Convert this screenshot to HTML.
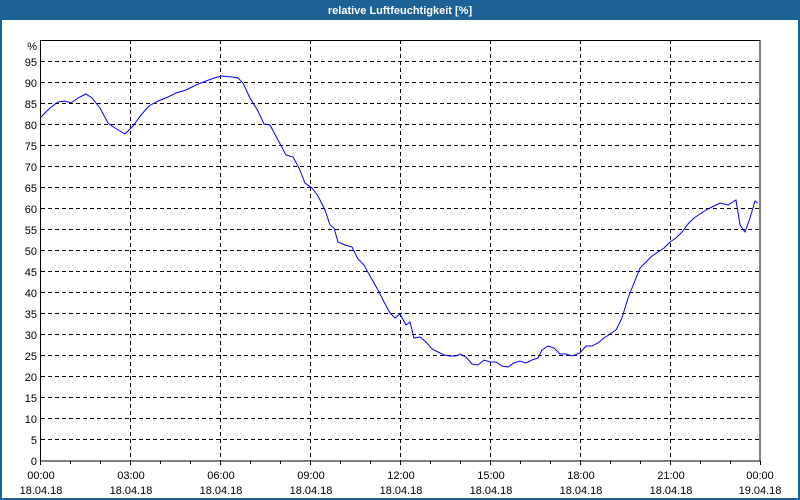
<!DOCTYPE html>
<html><head><style>
body{margin:0;background:#fff;}
svg{display:block;font-family:"Liberation Sans","DejaVu Sans",sans-serif;font-size:11px;}
</style></head><body>
<svg width="800" height="500" xmlns="http://www.w3.org/2000/svg">
<rect x="0" y="0" width="800" height="500" fill="#1e6194"/>
<rect x="2" y="20" width="796" height="478" fill="#fff"/>
<text x="400" y="14" fill="#fff" font-weight="bold" text-anchor="middle">relative Luftfeuchtigkeit [%]</text>
<g stroke="#000" stroke-width="1" stroke-dasharray="4,3" fill="none">
<path d="M41 439.5H760M41 418.5H760M41 397.5H760M41 376.5H760M41 355.5H760M41 334.5H760M41 313.5H760M41 292.5H760M41 271.5H760M41 250.5H760M41 229.5H760M41 208.5H760M41 187.5H760M41 166.5H760M41 145.5H760M41 124.5H760M41 103.5H760M41 82.5H760M41 61.5H760"/>
<path d="M130.5 40V461M220.5 40V461M310.5 40V461M400.5 40V461M490.5 40V461M580.5 40V461M670.5 40V461"/>
</g>
<g stroke="#000" stroke-width="1" fill="none">
<rect x="40.5" y="40.5" width="719.5" height="420.5"/>
<path d="M40.5 461v4M70.5 461v3M100.5 461v3M130.5 461v4M160.5 461v3M190.5 461v3M220.5 461v4M250.5 461v3M280.5 461v3M310.5 461v4M340.5 461v3M370.5 461v3M400.5 461v4M430.5 461v3M460.5 461v3M490.5 461v4M520.5 461v3M550.5 461v3M580.5 461v4M610.5 461v3M640.5 461v3M670.5 461v4M700.5 461v3M730.5 461v3M760.5 461v4"/>
</g>
<g text-anchor="end" fill="#000">
<text x="37" y="465">0</text><text x="37" y="444">5</text><text x="37" y="423">10</text><text x="37" y="402">15</text><text x="37" y="381">20</text><text x="37" y="360">25</text><text x="37" y="339">30</text><text x="37" y="318">35</text><text x="37" y="297">40</text><text x="37" y="276">45</text><text x="37" y="255">50</text><text x="37" y="234">55</text><text x="37" y="213">60</text><text x="37" y="192">65</text><text x="37" y="171">70</text><text x="37" y="150">75</text><text x="37" y="129">80</text><text x="37" y="108">85</text><text x="37" y="87">90</text><text x="37" y="66">95</text><text x="37" y="50">%</text>
</g>
<g text-anchor="middle" fill="#000">
<text x="41" y="479">00:00</text><text x="41" y="494">18.04.18</text>
<text x="131" y="479">03:00</text><text x="131" y="494">18.04.18</text>
<text x="221" y="479">06:00</text><text x="221" y="494">18.04.18</text>
<text x="311" y="479">09:00</text><text x="311" y="494">18.04.18</text>
<text x="401" y="479">12:00</text><text x="401" y="494">18.04.18</text>
<text x="491" y="479">15:00</text><text x="491" y="494">18.04.18</text>
<text x="581" y="479">18:00</text><text x="581" y="494">18.04.18</text>
<text x="671" y="479">21:00</text><text x="671" y="494">18.04.18</text>
<text x="760" y="479">00:00</text><text x="760" y="494">19.04.18</text>
</g>
<polyline fill="none" stroke="#0000ff" stroke-width="1" points="41,117 50,108 58,102 65,101 71,103 78,98 86,94 92,98 100,108 108,123 115,128 125,134 133,126 141,115 149,106 158,101 168,97 176,93 186,90 196,85 206,81 214,78 222,76 232,77 238,78 243,83 250,98 258,111 264,124 270,125 278,140 286,155 293,157 299,168 305,183 312,188 318,196 325,210 330,225 334,228 338,242 345,245 352,247 358,259 364,265 370,276 378,290 384,302 390,313 395,318 400,314 406,325 410,322 414,338 420,337 426,342 432,349 438,352 444,355 450,356 456,356 460,354 466,357 472,364 478,365 484,360 490,362 496,362 502,366 508,367 514,363 520,361 526,363 532,360 538,358 542,350 548,346 554,348 560,354 566,354 572,356 580,353 586,346 592,346 598,343 604,338 610,334 616,330 622,318 628,298 634,283 640,268 646,262 652,256 658,252 664,248 670,242 676,238 682,232 688,224 694,218 700,214 706,210 712,207 720,203 728,205 736,200 740,225 745,232 750,218 755,201 758,203"/>
</svg>
</body></html>
